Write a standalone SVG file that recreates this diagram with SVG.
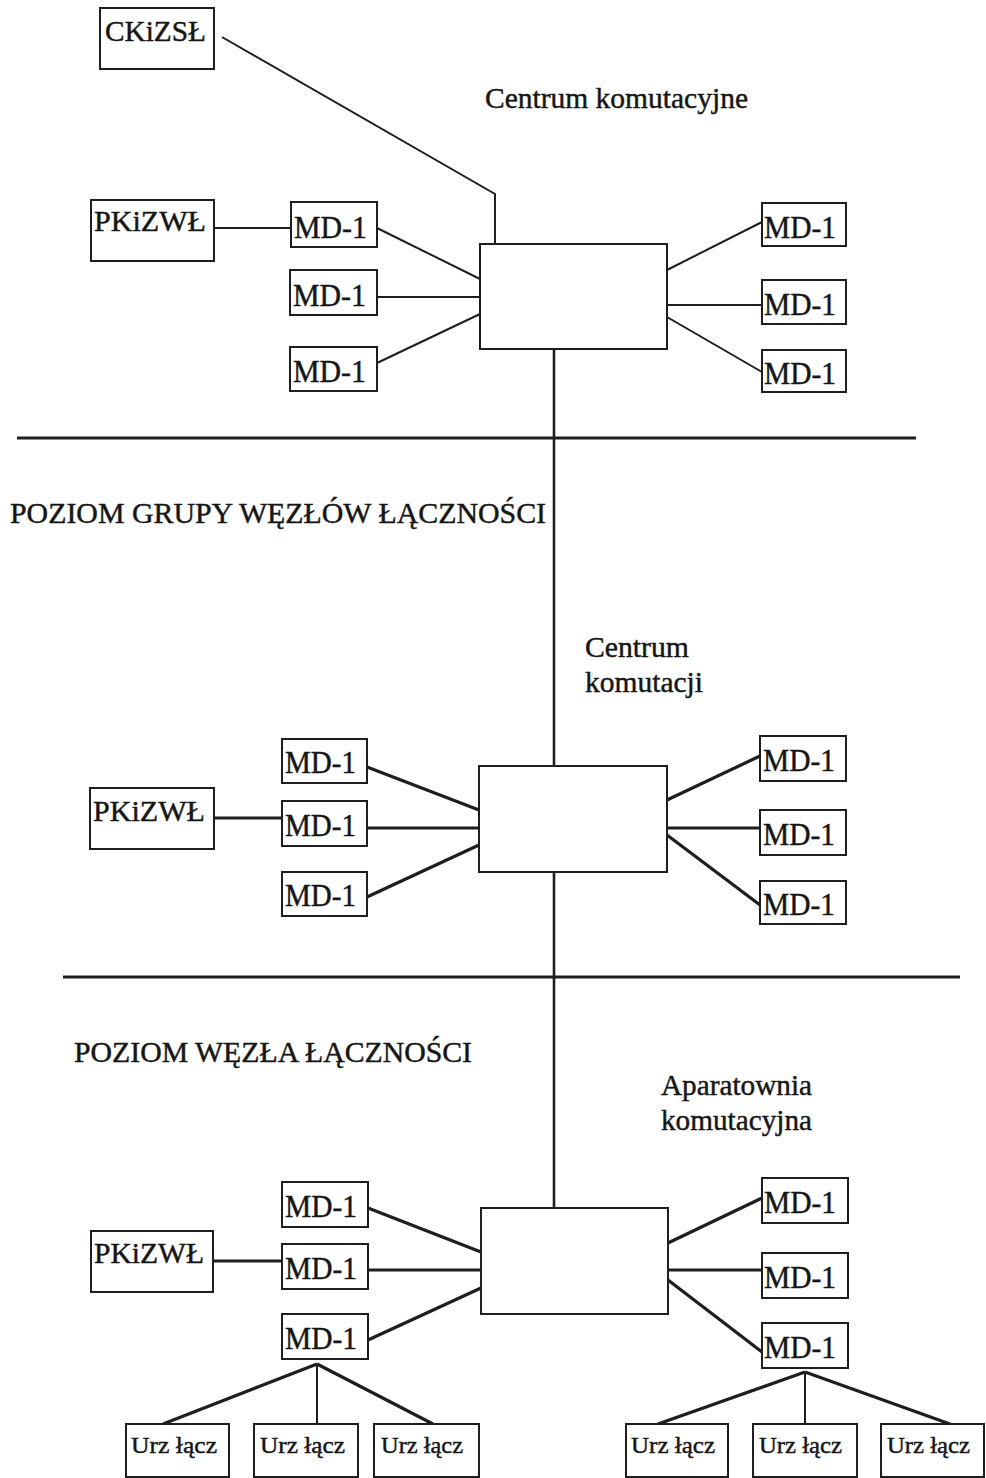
<svg xmlns="http://www.w3.org/2000/svg" width="986" height="1478" viewBox="0 0 986 1478">
  <style>
    .box { fill: #ffffff; stroke: #1e1e1e; stroke-width: 2; }
    .t { font-family: "Liberation Serif", "Times New Roman", serif; fill: #161616; stroke: #161616; stroke-width: 0.45; }
    .lbl { font-size: 30px; }
    .md { font-size: 31px; }
    .urz { font-size: 24px; }
    .thin { stroke: #1e1e1e; stroke-width: 2; fill: none; }
    .thick { stroke: #1e1e1e; stroke-width: 3.2; fill: none; }
    .sep { stroke: #1e1e1e; stroke-width: 3; }
    .trunk { stroke: #1e1e1e; stroke-width: 2.6; }
  </style>
  <rect width="986" height="1478" fill="#ffffff"/>

  <!-- level separators -->
  <g id="separators">
    <line class="sep" x1="17" y1="438" x2="916" y2="438"/>
    <line class="sep" x1="63" y1="977" x2="960" y2="977"/>
  </g>

  <!-- free labels -->
  <g id="labels">
    <text class="t lbl" x="485" y="108" textLength="263" lengthAdjust="spacingAndGlyphs">Centrum komutacyjne</text>
    <text class="t lbl" x="10" y="523" textLength="536" lengthAdjust="spacingAndGlyphs">POZIOM GRUPY WĘZŁÓW ŁĄCZNOŚCI</text>
    <text class="t lbl" x="585" y="657" textLength="104" lengthAdjust="spacingAndGlyphs">Centrum</text>
    <text class="t lbl" x="585" y="692" textLength="118" lengthAdjust="spacingAndGlyphs">komutacji</text>
    <text class="t lbl" x="74" y="1062" textLength="398" lengthAdjust="spacingAndGlyphs">POZIOM WĘZŁA ŁĄCZNOŚCI</text>
    <text class="t lbl" x="661" y="1095" textLength="151" lengthAdjust="spacingAndGlyphs">Aparatownia</text>
    <text class="t lbl" x="661" y="1130" textLength="151" lengthAdjust="spacingAndGlyphs">komutacyjna</text>
  </g>

  <!-- connectors -->
  <g id="connectors">
    <!-- top level -->
    <polyline class="thin" points="222,37 495,194 495,243"/>
    <line class="thin" x1="214" y1="228" x2="291" y2="228"/>
    <line class="thin" x1="377" y1="228" x2="480" y2="279"/>
    <line class="thin" x1="377" y1="297" x2="480" y2="297"/>
    <line class="thin" x1="377" y1="363" x2="480" y2="314"/>
    <line class="thin" x1="667" y1="270" x2="762" y2="222"/>
    <line class="thin" x1="667" y1="305" x2="762" y2="305"/>
    <line class="thin" x1="667" y1="317" x2="762" y2="372"/>
    <!-- vertical trunk -->
    <line class="trunk" x1="554" y1="349" x2="554" y2="766"/>
    <line class="trunk" x1="554" y1="872" x2="554" y2="1208"/>
    <!-- middle level -->
    <line class="thick" x1="214" y1="818" x2="282" y2="818"/>
    <line class="thick" x1="367" y1="767" x2="479" y2="810"/>
    <line class="thick" x1="367" y1="828" x2="479" y2="828"/>
    <line class="thick" x1="367" y1="897" x2="479" y2="845"/>
    <line class="thick" x1="667" y1="800" x2="760" y2="756"/>
    <line class="thick" x1="667" y1="828" x2="760" y2="828"/>
    <line class="thick" x1="667" y1="835" x2="760" y2="905"/>
    <!-- bottom level -->
    <line class="thick" x1="213" y1="1261" x2="282" y2="1261"/>
    <line class="thick" x1="368" y1="1208" x2="481" y2="1252"/>
    <line class="thick" x1="368" y1="1270" x2="481" y2="1270"/>
    <line class="thick" x1="368" y1="1340" x2="481" y2="1288"/>
    <line class="thick" x1="668" y1="1243" x2="762" y2="1198"/>
    <line class="thick" x1="668" y1="1270" x2="762" y2="1270"/>
    <line class="thick" x1="668" y1="1280" x2="762" y2="1352"/>
    <!-- terminal fan-out -->
    <line class="thick" x1="317" y1="1364" x2="163" y2="1424"/>
    <line class="thin" x1="317" y1="1364" x2="317" y2="1424"/>
    <line class="thick" x1="317" y1="1364" x2="433" y2="1424"/>
    <line class="thick" x1="805" y1="1372" x2="658" y2="1424"/>
    <line class="thin" x1="805" y1="1372" x2="805" y2="1424"/>
    <line class="thick" x1="805" y1="1372" x2="950" y2="1424"/>
  </g>

  <!-- top level nodes -->
  <g id="ckizsl"><rect class="box" x="100" y="8" width="114" height="61"/><text class="t lbl" x="105" y="41" textLength="101" lengthAdjust="spacingAndGlyphs">CKiZSŁ</text></g>
  <g id="pkizwl-1"><rect class="box" x="91" y="200" width="123" height="61"/><text class="t lbl" x="94" y="231" textLength="112" lengthAdjust="spacingAndGlyphs">PKiZWŁ</text></g>
  <g id="centrum-1"><rect class="box" x="480" y="244" width="187" height="105"/></g>
  <g id="md-1-l1"><rect class="box" x="291" y="202" width="86" height="45"/><text class="t md" x="294" y="238" textLength="73" lengthAdjust="spacingAndGlyphs">MD-1</text></g>
  <g id="md-1-l2"><rect class="box" x="290" y="270" width="87" height="45"/><text class="t md" x="293" y="306" textLength="73" lengthAdjust="spacingAndGlyphs">MD-1</text></g>
  <g id="md-1-l3"><rect class="box" x="290" y="347" width="87" height="44"/><text class="t md" x="293" y="382" textLength="73" lengthAdjust="spacingAndGlyphs">MD-1</text></g>
  <g id="md-1-r1"><rect class="box" x="762" y="203" width="84" height="43"/><text class="t md" x="764" y="238" textLength="72" lengthAdjust="spacingAndGlyphs">MD-1</text></g>
  <g id="md-1-r2"><rect class="box" x="762" y="280" width="84" height="44"/><text class="t md" x="764" y="315" textLength="72" lengthAdjust="spacingAndGlyphs">MD-1</text></g>
  <g id="md-1-r3"><rect class="box" x="762" y="350" width="84" height="42"/><text class="t md" x="764" y="384" textLength="72" lengthAdjust="spacingAndGlyphs">MD-1</text></g>

  <!-- middle level nodes -->
  <g id="pkizwl-2"><rect class="box" x="90" y="788" width="124" height="61"/><text class="t lbl" x="93" y="821" textLength="112" lengthAdjust="spacingAndGlyphs">PKiZWŁ</text></g>
  <g id="centrum-2"><rect class="box" x="479" y="766" width="188" height="106"/></g>
  <g id="md-2-l1"><rect class="box" x="282" y="739" width="85" height="44"/><text class="t md" x="285" y="773" textLength="71" lengthAdjust="spacingAndGlyphs">MD-1</text></g>
  <g id="md-2-l2"><rect class="box" x="282" y="801" width="85" height="45"/><text class="t md" x="285" y="836" textLength="71" lengthAdjust="spacingAndGlyphs">MD-1</text></g>
  <g id="md-2-l3"><rect class="box" x="282" y="872" width="85" height="44"/><text class="t md" x="285" y="906" textLength="71" lengthAdjust="spacingAndGlyphs">MD-1</text></g>
  <g id="md-2-r1"><rect class="box" x="760" y="736" width="86" height="45"/><text class="t md" x="763" y="771" textLength="72" lengthAdjust="spacingAndGlyphs">MD-1</text></g>
  <g id="md-2-r2"><rect class="box" x="760" y="810" width="86" height="45"/><text class="t md" x="763" y="845" textLength="72" lengthAdjust="spacingAndGlyphs">MD-1</text></g>
  <g id="md-2-r3"><rect class="box" x="760" y="881" width="86" height="43"/><text class="t md" x="763" y="915" textLength="72" lengthAdjust="spacingAndGlyphs">MD-1</text></g>

  <!-- bottom level nodes -->
  <g id="pkizwl-3"><rect class="box" x="91" y="1231" width="122" height="61"/><text class="t lbl" x="94" y="1263" textLength="110" lengthAdjust="spacingAndGlyphs">PKiZWŁ</text></g>
  <g id="aparatownia"><rect class="box" x="481" y="1208" width="187" height="106"/></g>
  <g id="md-3-l1"><rect class="box" x="282" y="1182" width="86" height="45"/><text class="t md" x="285" y="1217" textLength="72" lengthAdjust="spacingAndGlyphs">MD-1</text></g>
  <g id="md-3-l2"><rect class="box" x="282" y="1244" width="86" height="45"/><text class="t md" x="285" y="1279" textLength="72" lengthAdjust="spacingAndGlyphs">MD-1</text></g>
  <g id="md-3-l3"><rect class="box" x="282" y="1314" width="86" height="45"/><text class="t md" x="285" y="1349" textLength="72" lengthAdjust="spacingAndGlyphs">MD-1</text></g>
  <g id="md-3-r1"><rect class="box" x="762" y="1178" width="86" height="45"/><text class="t md" x="764" y="1213" textLength="72" lengthAdjust="spacingAndGlyphs">MD-1</text></g>
  <g id="md-3-r2"><rect class="box" x="762" y="1253" width="86" height="45"/><text class="t md" x="764" y="1288" textLength="72" lengthAdjust="spacingAndGlyphs">MD-1</text></g>
  <g id="md-3-r3"><rect class="box" x="762" y="1323" width="86" height="45"/><text class="t md" x="764" y="1358" textLength="72" lengthAdjust="spacingAndGlyphs">MD-1</text></g>

  <!-- terminal devices -->
  <g id="urz-l1"><rect class="box" x="126" y="1424" width="103" height="53"/><text class="t urz" x="131" y="1453" textLength="86" lengthAdjust="spacingAndGlyphs">Urz łącz</text></g>
  <g id="urz-l2"><rect class="box" x="254" y="1424" width="104" height="53"/><text class="t urz" x="260" y="1453" textLength="85" lengthAdjust="spacingAndGlyphs">Urz łącz</text></g>
  <g id="urz-l3"><rect class="box" x="374" y="1424" width="105" height="53"/><text class="t urz" x="381" y="1453" textLength="82" lengthAdjust="spacingAndGlyphs">Urz łącz</text></g>
  <g id="urz-r1"><rect class="box" x="626" y="1424" width="102" height="53"/><text class="t urz" x="631" y="1453" textLength="84" lengthAdjust="spacingAndGlyphs">Urz łącz</text></g>
  <g id="urz-r2"><rect class="box" x="753" y="1424" width="104" height="53"/><text class="t urz" x="759" y="1453" textLength="83" lengthAdjust="spacingAndGlyphs">Urz łącz</text></g>
  <g id="urz-r3"><rect class="box" x="881" y="1424" width="103" height="53"/><text class="t urz" x="887" y="1453" textLength="83" lengthAdjust="spacingAndGlyphs">Urz łącz</text></g>
</svg>
